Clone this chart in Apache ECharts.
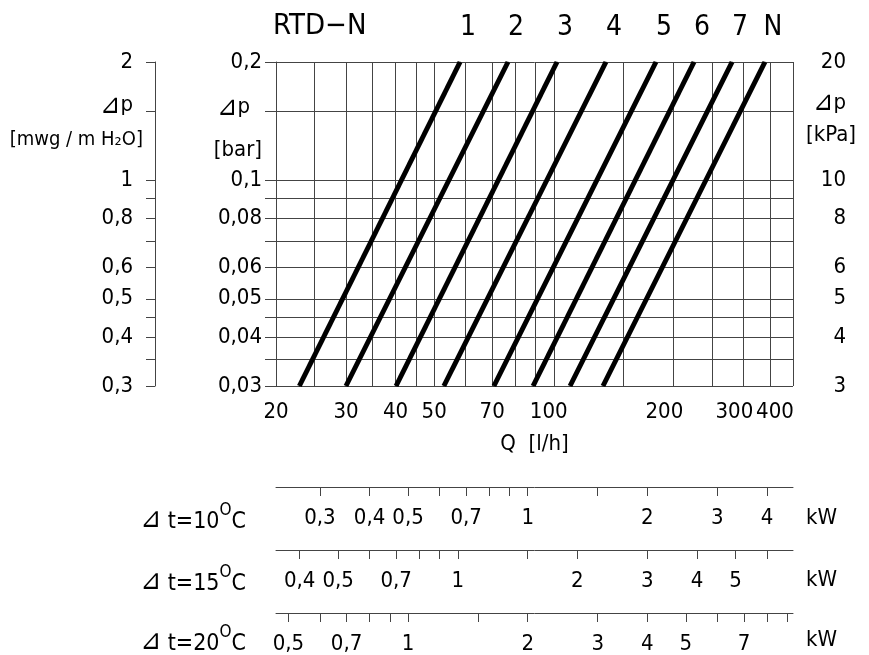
<!DOCTYPE html>
<html><head><meta charset="utf-8">
<script src="https://cdn.jsdelivr.net/npm/echarts@6/dist/echarts.min.js"></script>
<style>html,body{margin:0;padding:0;background:#fff}#c{width:869px;height:655px}</style>
</head><body><div id="c"></div>
<script>
// ---- data ----
const seriesNames = ['1','2','3','4','5','6','7','N'];
const qAtLow  = [22.9, 30.0, 40.1, 52.9, 70.7, 88.7, 109.9, 133];   // l/h at 0.03 bar
const qAtHigh = [58.1, 76.7, 101.9, 135.3, 180.8, 225.4, 281, 340]; // l/h at 0.2 bar
const dpLow = 0.03, dpHigh = 0.2;

const qMin = 20, qMax = 400;
const qTicks  = [20,25,30,35,40,45,50,60,70,80,90,100,150,200,250,300,350,400];
const qLabels = [20,30,40,50,70,100,200,300,400];

const barMin = 0.03, barMax = 0.2;
const barTicks  = [0.03,0.035,0.04,0.045,0.05,0.06,0.07,0.08,0.09,0.1,0.15,0.2];
const barLabels = [0.03,0.04,0.05,0.06,0.08,0.1,0.2];
const barNamePos = [0.153, 0.1195];          // ⊿p, [bar]

const mwgMin = 0.3, mwgMax = 2;
const mwgTicks  = [0.3,0.35,0.4,0.45,0.5,0.6,0.7,0.8,0.9,1,1.5,2];
const mwgLabels = [0.3,0.4,0.5,0.6,0.8,1,2];
const mwgNamePos = [1.55, 1.27];             // ⊿p, [mwg / m H2O]

const kpaMin = 3, kpaMax = 20;
const kpaLabels = [3,4,5,6,8,10,20];
const kpaNamePos = [15.7, 13.0];             // ⊿p, [kPa]

const deltaT = [10,15,20];
const kcalPerKWh = 860;
const kwTicks  = [
  [0.3,0.4,0.5,0.6,0.7,0.8,0.9,1,1.5,2,3,4],
  [0.4,0.5,0.6,0.7,0.8,0.9,1,1.5,2,3,4,5,6],
  [0.5,0.6,0.7,0.8,0.9,1,1.5,2,3,4,5,6,7,8,9]
];
const kwLabels = [
  [0.3,0.4,0.5,0.7,1,2,3,4],
  [0.4,0.5,0.7,1,2,3,4,5],
  [0.5,0.7,1,2,3,4,5,7]
];

// ---- helpers ----
const FF = "'DejaVu Sans Condensed','DejaVu Sans',sans-serif";
const GRID = '#444';
const FS = 22;
const lg = v => Math.log10(v);
const numTxt = v => String(v).replace('.', ',');
const wrap = (k, t) => k ? '{' + k + '|' + t + '}' : t;
// pairs: [value, markup]
function makeFmt(pairs){
  const m = {};
  pairs.forEach(([v,t]) => { m[lg(v).toFixed(6)] = t; });
  return val => { const t = m[Number(val).toFixed(6)]; return t === undefined ? '' : t; };
}
const rs = (pad, fs) => ({fontSize:fs||FS, fontFamily:FF, color:'#000', padding:pad||[0,0,0,0]});
const txt = {color:'#000', fontFamily:FF, fontSize:FS, showMinLabel:true, showMaxLabel:true, hideOverlap:false};
const nameTxt = {color:'#000', fontFamily:FF, fontSize:FS};
const dpMark = padKey => '{tri|⊿}' + wrap(padKey || 'n', 'p');

const qPad = {100:'p10', 200:'p18', 300:'p18', 400:'p36'};
const qLabelPairs = qLabels.map(v => [v, wrap(qPad[v], String(v))]);
const barLabelPairs = barLabels.map(v => [v, numTxt(v)])
  .concat([[barNamePos[0], dpMark('p12')], [barNamePos[1], '[bar]']]);
const mwgLabelPairs = mwgLabels.map(v => [v, wrap('p10', numTxt(v))])
  .concat([[mwgNamePos[0], dpMark('p10')], [mwgNamePos[1], wrap('u', '[mwg / m H₂O]')]]);
const kpaLabelPairs = kpaLabels.map(v => [v, wrap('p10', numTxt(v))])
  .concat([[kpaNamePos[0], dpMark('p10')], [kpaNamePos[1], '[kPa]']]);
const rich = {
  n: rs(), p10: rs([0,10,0,0]), p12: rs([0,12,0,0]), p18: rs([0,18,0,0]), p36: rs([0,36,0,0]),
  u: rs([0,0,0,0], 20), tri: rs([0,0,0,0], 27)
};

const grids = [{left:276, top:62, width:517, height:324, outerBoundsMode:'none', containLabel:false}];
const kwTops = [487, 550, 613];
kwTops.forEach(t => grids.push({left:276, top:t, width:517, height:0, outerBoundsMode:'none', containLabel:false}));

const xAxes = [{
  type:'value', gridIndex:0, min:lg(qMin), max:lg(qMax),
  axisLine:{show:true, lineStyle:{color:GRID, width:1}},
  axisTick:{show:true, customValues:qTicks.map(lg), length:9, lineStyle:{color:GRID}},
  axisLabel:Object.assign({customValues:qLabels.map(lg), formatter:makeFmt(qLabelPairs), margin:15, rich:rich}, txt),
  splitLine:{show:true, lineStyle:{color:GRID, width:1}},
  name:'Q  [l/h]', nameLocation:'middle', nameGap:47,
  nameTextStyle:nameTxt
}];
const yAxes = [{
  type:'value', gridIndex:0, position:'left', min:lg(barMin), max:lg(barMax),
  axisLine:{show:true, lineStyle:{color:GRID, width:1}},
  axisTick:{show:true, customValues:barTicks.map(lg), length:11, lineStyle:{color:GRID}},
  axisLabel:Object.assign({customValues:barLabelPairs.map(p => lg(p[0])), formatter:makeFmt(barLabelPairs), margin:14, rich:rich}, txt),
  splitLine:{show:true, lineStyle:{color:GRID, width:1}}
},{
  type:'value', gridIndex:0, position:'left', offset:121, min:lg(mwgMin), max:lg(mwgMax),
  axisLine:{show:true, lineStyle:{color:GRID, width:1}},
  axisTick:{show:true, customValues:mwgTicks.map(lg), length:9, lineStyle:{color:GRID}},
  axisLabel:Object.assign({customValues:mwgLabelPairs.map(p => lg(p[0])), formatter:makeFmt(mwgLabelPairs), margin:12, rich:rich}, txt),
  splitLine:{show:false}
},{
  type:'value', gridIndex:0, position:'right', min:lg(kpaMin), max:lg(kpaMax),
  axisLine:{show:false}, axisTick:{show:false},
  axisLabel:Object.assign({customValues:kpaLabelPairs.map(p => lg(p[0])), formatter:makeFmt(kpaLabelPairs), margin:63, align:'right', rich:rich}, txt),
  splitLine:{show:false}
}];
deltaT.forEach((dt, k) => {
  const pairs = kwLabels[k].map(v => [v, numTxt(v)]);
  xAxes.push({
    type:'value', gridIndex:k+1, position:'bottom',
    min:lg(qMin*dt/kcalPerKWh), max:lg(qMax*dt/kcalPerKWh),
    axisLine:{show:true, lineStyle:{color:GRID, width:1}},
    axisTick:{show:true, customValues:kwTicks[k].map(lg), length:9, lineStyle:{color:GRID}},
    axisLabel:Object.assign({customValues:kwLabels[k].map(lg), formatter:makeFmt(pairs), margin:20}, txt),
    splitLine:{show:false}
  });
  yAxes.push({type:'value', gridIndex:k+1, show:false, min:0, max:1});
});

const series = seriesNames.map((n, i) => ({
  type:'line', name:n, xAxisIndex:0, yAxisIndex:0,
  data:[
    {value:[lg(qAtLow[i]), lg(dpLow)]},
    {value:[lg(qAtHigh[i]), lg(dpHigh)], label:{show:true}}
  ],
  symbol:'circle', symbolSize:1, showSymbol:true,
  itemStyle:{color:'#000'},
  lineStyle:{color:'#000', width:5},
  label:{show:false, position:'top', distance:20, offset:[8,0], formatter:n, fontSize:28, color:'#000', fontFamily:FF},
  clip:false, silent:true, animation:false
}));

const graphic = [
  {type:'text', x:273, y:26, style:{text:'RTD−N', fontSize:29, fontFamily:FF, fill:'#000', verticalAlign:'middle', align:'left'}}
];
const rowY = [518, 580, 640];
deltaT.forEach((dt, k) => {
  graphic.push({type:'text', x:140, y:rowY[k], style:{
    text:'{d|⊿}{a| t=' + dt + '}{s|O}{a|C}', fill:'#000', verticalAlign:'middle', align:'left',
    rich:{
      d:{fontSize:28, fontFamily:FF, fill:'#000', lineHeight:32, verticalAlign:'bottom'},
      a:{fontSize:23, fontFamily:FF, fill:'#000', lineHeight:32, verticalAlign:'bottom'},
      s:{fontSize:17, fontFamily:FF, fill:'#000', lineHeight:32, verticalAlign:'top'}
    }}});
  graphic.push({type:'text', x:806, y:rowY[k], style:{text:'kW', fontSize:22, fontFamily:FF, fill:'#000', verticalAlign:'middle', align:'left'}});
});

const chart = echarts.init(document.getElementById('c'), null, {renderer:'canvas'});
chart.setOption({
  animation:false,
  backgroundColor:'#fff',
  grid:grids, xAxis:xAxes, yAxis:yAxes, series:series, graphic:graphic
});
</script></body></html>
